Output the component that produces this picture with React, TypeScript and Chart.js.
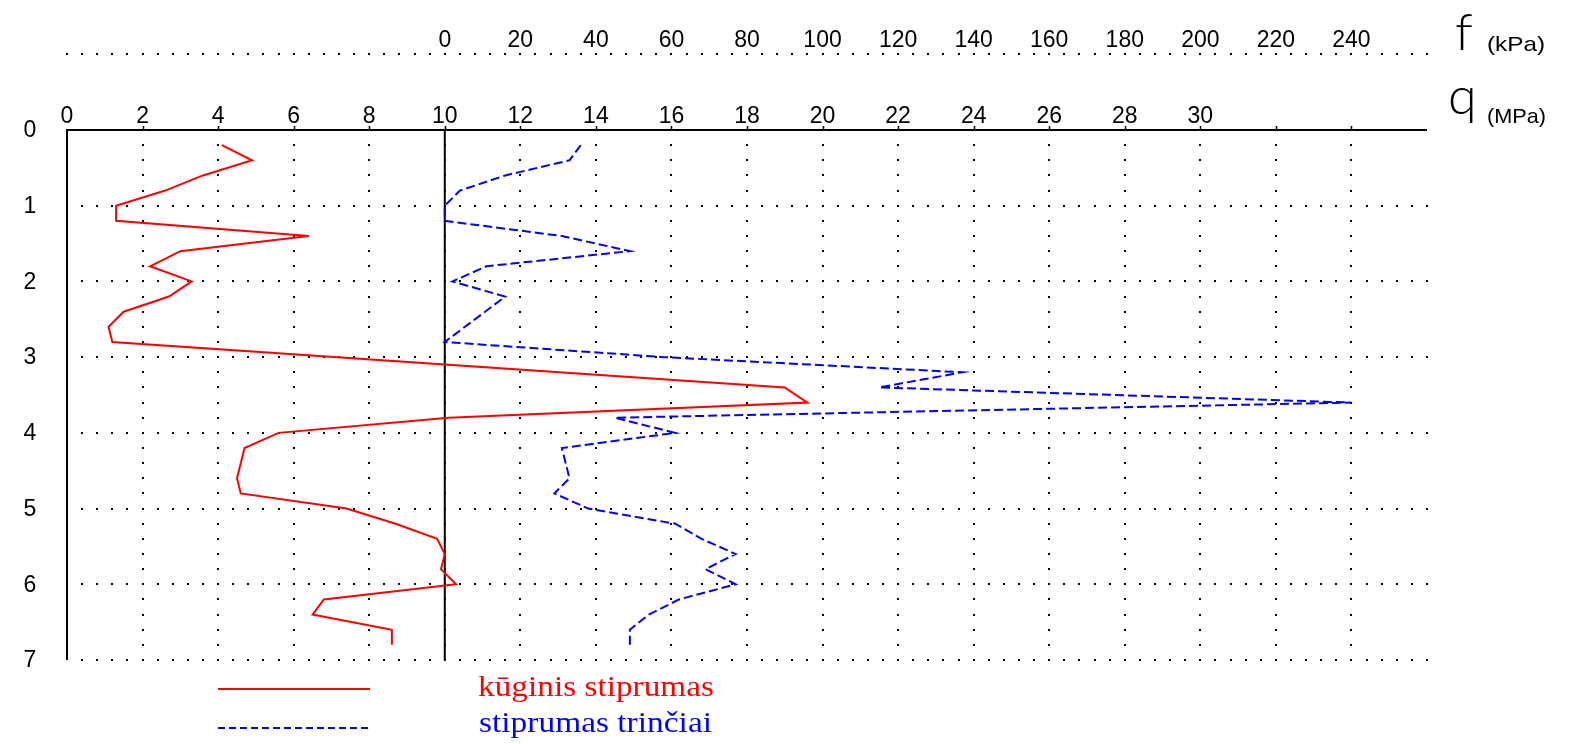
import React, { useEffect, useRef } from 'react';
import { Chart, registerables } from 'chart.js';

Chart.register(...registerables);

// ---- Data ----
const coneDepthM = [0.2, 0.4, 0.6, 0.8, 1.0, 1.2, 1.4, 1.6, 1.8, 2.0, 2.2, 2.4, 2.6, 2.8, 3.4, 3.6, 3.8, 4.0, 4.2, 4.6, 4.8, 5.0, 5.2, 5.4, 5.6, 5.8, 6.0, 6.2, 6.4, 6.6, 6.8];
const coneResistanceMPa = [4.1, 4.9, 3.6, 2.6, 1.3, 1.3, 6.4, 3.0, 2.2, 3.3, 2.7, 1.5, 1.1, 1.2, 19.0, 19.6, 10.1, 5.6, 4.7, 4.5, 4.6, 7.4, 8.7, 9.8, 10.0, 9.9, 10.3, 6.8, 6.5, 8.6, 8.6];

const frictionDepthM = [0.2, 0.4, 0.6, 0.8, 1.0, 1.2, 1.4, 1.6, 1.8, 2.0, 2.2, 2.8, 3.0, 3.2, 3.4, 3.6, 3.8, 4.0, 4.2, 4.6, 4.8, 5.0, 5.2, 5.4, 5.6, 5.8, 6.0, 6.2, 6.4, 6.6, 6.8];
const frictionKPa = [36, 33, 16, 4, 0, 0, 31, 49, 11, 2, 16, 0, 58, 137, 115, 240, 45, 61, 31, 33, 29, 38, 61, 68, 77, 69, 77, 62, 54, 49, 49];

const qTickLabels = [0, 2, 4, 6, 8, 10, 12, 14, 16, 18, 20, 22, 24, 26, 28, 30];
const fTickLabels = [0, 20, 40, 60, 80, 100, 120, 140, 160, 180, 200, 220, 240];
const depthTickLabels = [0, 1, 2, 3, 4, 5, 6, 7];

const legendCone = 'kūginis stiprumas';
const legendFriction = 'stiprumas trinčiai';

const Q_MAX = 36;
const D_MAX = 7;

const RED = '#ff0000';
const BLUE = '#0000ff';
const DASH = [9, 4];

const drawStretched = (ctx: any, text: string, font: string, color: string, left: number, width: number, baseline: number) => {
  ctx.save();
  ctx.font = font;
  ctx.fillStyle = color;
  ctx.textAlign = 'left';
  ctx.textBaseline = 'alphabetic';
  const w = ctx.measureText(text).width;
  ctx.translate(left, baseline);
  ctx.scale(width / w, 1);
  ctx.fillText(text, 0, 0);
  ctx.restore();
};

const decorPlugin = {
  id: 'decor',
  beforeDatasetsDraw(chart: any) {
    const ctx = chart.ctx;
    const x = chart.scales.x;
    const y = chart.scales.y;
    const xf = chart.scales.xf;
    ctx.save();
    ctx.fillStyle = '#000';
    // vertical dotted grid
    for (let q = 2; q <= 34; q += 2) {
      const px = Math.round(x.getPixelForValue(q));
      for (let k = 1; k <= 35; k++) {
        const py = Math.round(y.getPixelForValue(k * 0.2));
        ctx.fillRect(px - 1, py - 1, 2, 2);
      }
    }
    // horizontal dotted grid
    for (let d = 1; d <= D_MAX; d++) {
      const py = Math.round(y.getPixelForValue(d));
      for (let k = 1; k <= 90; k++) {
        const px = Math.round(x.getPixelForValue(k * 0.4));
        ctx.fillRect(px - 1, py - 1, 2, 2);
      }
    }
    // f axis dotted line
    const fY = 54;
    for (let k = 0; k <= 90; k++) {
      const px = Math.round(x.getPixelForValue(k * 0.4));
      ctx.fillRect(px - 1, fY - 1, 2, 2);
    }
    // solid axes
    ctx.strokeStyle = '#000';
    ctx.lineWidth = 2;
    const top = y.getPixelForValue(0);
    const bottom = y.getPixelForValue(D_MAX);
    ctx.beginPath();
    ctx.moveTo(x.getPixelForValue(0) - 1, top);
    ctx.lineTo(x.getPixelForValue(Q_MAX), top);
    ctx.stroke();
    ctx.beginPath();
    ctx.moveTo(x.getPixelForValue(0), top);
    ctx.lineTo(x.getPixelForValue(0), bottom);
    ctx.stroke();
    const p10 = xf.getPixelForValue(0);
    ctx.beginPath();
    ctx.moveTo(p10, top);
    ctx.lineTo(p10, bottom);
    ctx.stroke();
    // tick marks above top line
    ctx.lineWidth = 1.5;
    for (let q = 2; q <= 34; q += 2) {
      const px = Math.round(x.getPixelForValue(q)) + 0.5;
      ctx.beginPath();
      ctx.moveTo(px, top - 4);
      ctx.lineTo(px, top);
      ctx.stroke();
    }
    ctx.restore();
  },
  afterDraw(chart: any) {
    const ctx = chart.ctx;
    const x = chart.scales.x;
    const y = chart.scales.y;
    const xf = chart.scales.xf;
    ctx.save();
    ctx.fillStyle = '#000';
    ctx.font = '23px "Liberation Sans", Arial, sans-serif';
    ctx.textAlign = 'center';
    ctx.textBaseline = 'middle';
    qTickLabels.forEach((v) => {
      ctx.fillText(String(v), x.getPixelForValue(v), 117);
    });
    fTickLabels.forEach((v) => {
      ctx.fillText(String(v), xf.getPixelForValue(v), 41);
    });
    depthTickLabels.forEach((v) => {
      ctx.fillText(String(v), 30, y.getPixelForValue(v) + 1);
    });
    // axis titles
    ctx.textAlign = 'left';
    ctx.font = '300 52px Lato, "Liberation Sans", sans-serif';
    ctx.textBaseline = 'alphabetic';
    ctx.fillText('f', 1455, 50);
    ctx.fillText('q', 1448, 114);
    const unitFont = '21px "Liberation Sans", Arial, sans-serif';
    drawStretched(ctx, '(kPa)', unitFont, '#000', 1487, 58, 51);
    drawStretched(ctx, '(MPa)', unitFont, '#000', 1487, 59, 123);

    // legend
    ctx.lineWidth = 2;
    ctx.strokeStyle = RED;
    ctx.beginPath();
    ctx.moveTo(218, 689);
    ctx.lineTo(370, 689);
    ctx.stroke();
    ctx.strokeStyle = BLUE;
    ctx.setLineDash([7, 4]);
    ctx.beginPath();
    ctx.moveTo(218, 728);
    ctx.lineTo(370, 728);
    ctx.stroke();
    ctx.setLineDash([]);

    const serif = '29px "Liberation Serif", "Times New Roman", serif';
    drawStretched(ctx, legendCone, serif, RED, 478, 236, 696);
    drawStretched(ctx, legendFriction, serif, BLUE, 479, 233, 732);
    ctx.restore();
  },
};

export default function App() {
  const canvasRef = useRef<HTMLCanvasElement | null>(null);

  useEffect(() => {
    document.body.style.margin = '0';
    document.body.style.overflow = 'hidden';
    const canvas = canvasRef.current;
    if (!canvas) return;
    const chart = new Chart(canvas, {
      type: 'line',
      data: {
        datasets: [
          {
            label: legendCone,
            data: coneDepthM.map((d, i) => ({ x: coneResistanceMPa[i], y: d })),
            borderColor: RED,
            backgroundColor: RED,
            borderWidth: 2,
            pointRadius: 0,
            tension: 0,
            xAxisID: 'x',
            yAxisID: 'y',
          },
          {
            label: legendFriction,
            data: frictionDepthM.map((d, i) => ({ x: frictionKPa[i], y: d })),
            borderColor: BLUE,
            backgroundColor: BLUE,
            borderWidth: 2,
            borderDash: DASH,
            pointRadius: 0,
            tension: 0,
            xAxisID: 'xf',
            yAxisID: 'y',
          },
        ],
      },
      options: {
        responsive: false,
        animation: false,
        devicePixelRatio: 1,
        parsing: false,
        layout: { padding: { left: 67, right: 143, top: 130, bottom: 84 } },
        plugins: {
          legend: { display: false },
          tooltip: { enabled: false },
        },
        scales: {
          x: { type: 'linear', min: 0, max: Q_MAX, display: false },
          xf: { type: 'linear', min: -100, max: 260, display: false },
          y: { type: 'linear', min: 0, max: D_MAX, reverse: true, display: false },
        },
      } as any,
      plugins: [decorPlugin],
    });
    return () => chart.destroy();
  }, []);

  return (
    <div style={{ width: 1570, height: 744, background: '#fff' }}>
      <canvas ref={canvasRef} width={1570} height={744} style={{ display: 'block' }} />
    </div>
  );
}
